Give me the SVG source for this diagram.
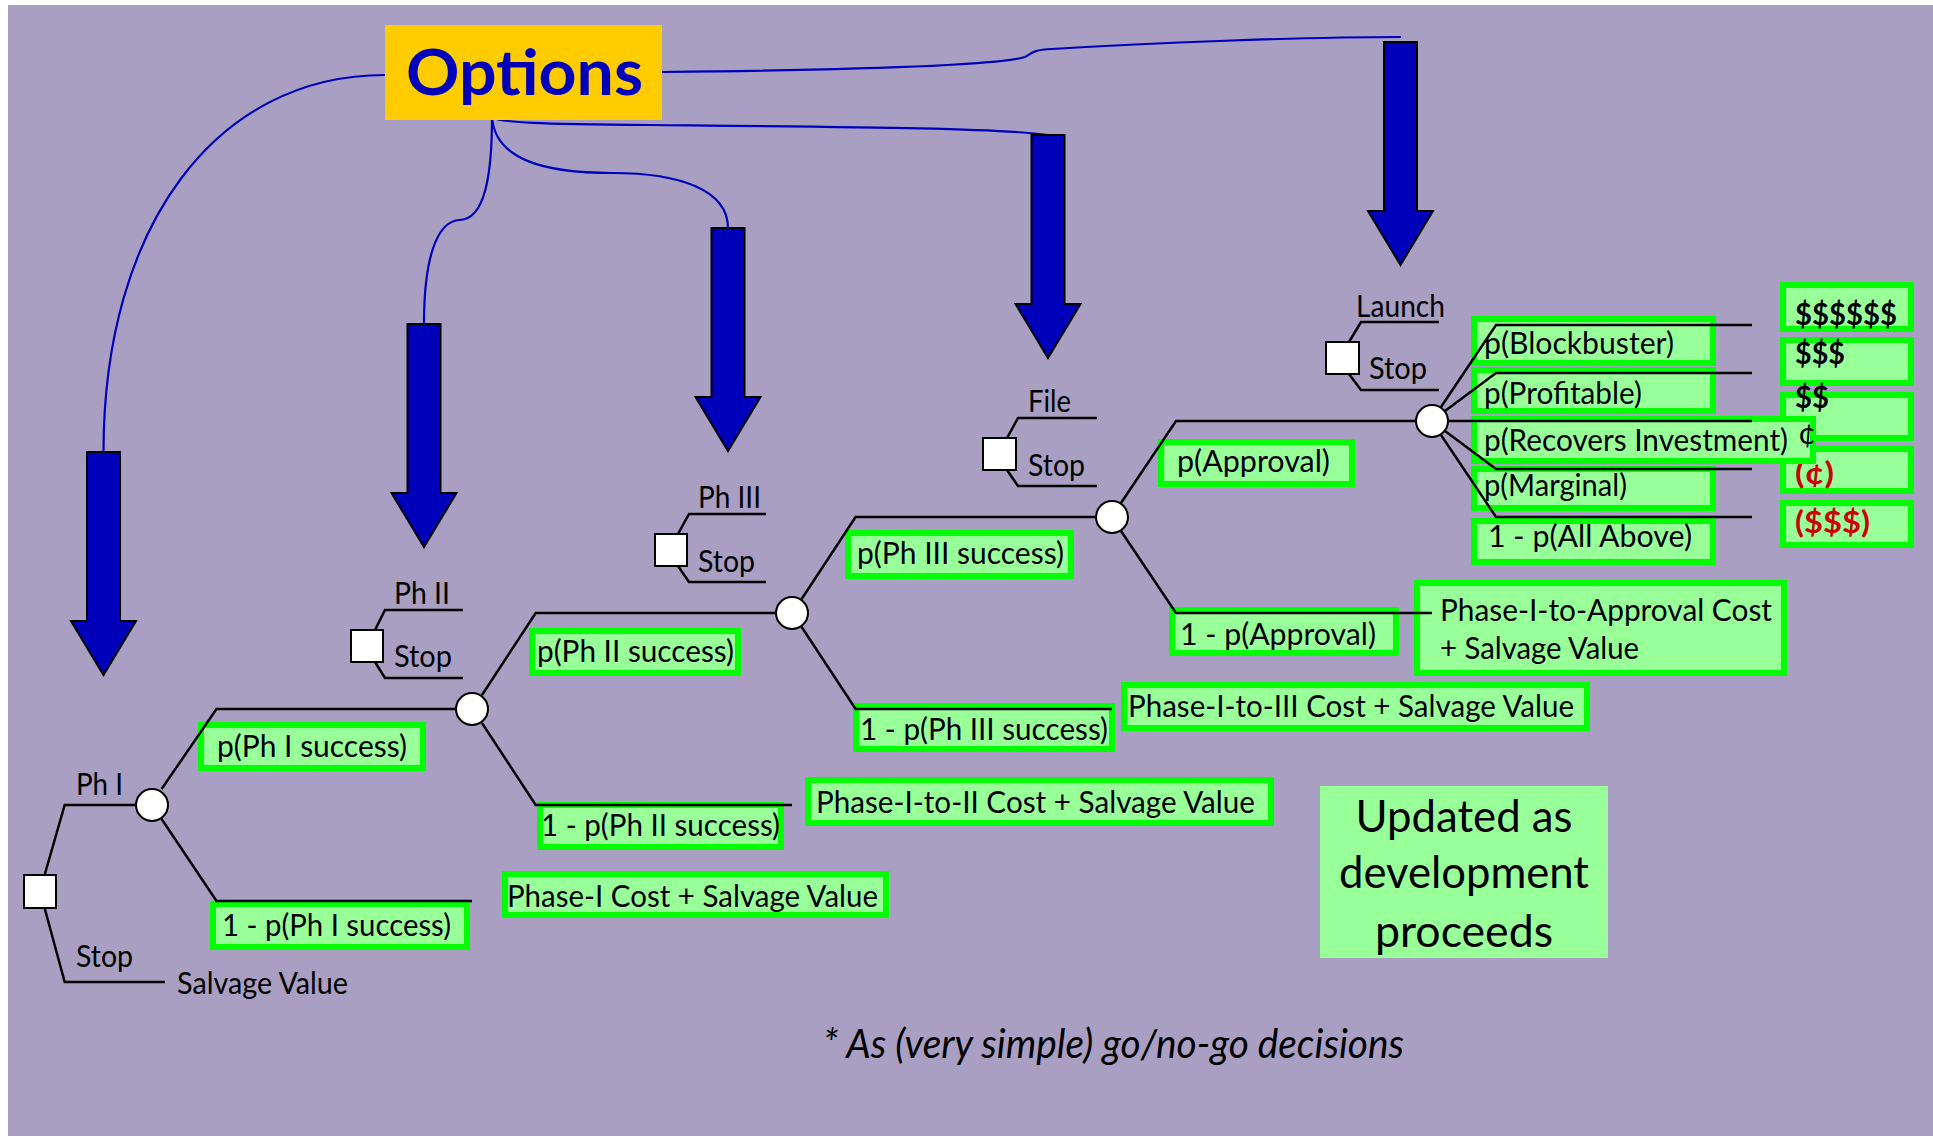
<svg xmlns="http://www.w3.org/2000/svg" xmlns:xlink="http://www.w3.org/1999/xlink" width="1933" height="1136" viewBox="0 0 1933 1136">
  <style>
    text { font-family: "Lato", "Open Sans", sans-serif; fill: #000; }
    .lbl { font-size: 31px; }
    .val { font-size: 31px; font-weight: bold; }
    .neg { fill: #CC0000; }
    .box { fill: #99FF99; stroke: #00FF00; stroke-width: 6; }
    .tree { fill: none; stroke: #000; stroke-width: 2.5; stroke-linejoin: miter; }
    .link { fill: none; stroke: #0000BB; stroke-width: 2.2; }
    .dec { fill: #fff; stroke: #000; stroke-width: 2; }
    .chance { fill: #fff; stroke: #000; stroke-width: 2; }
    .bigarrow { fill: #0000BB; stroke: #000; stroke-width: 2; stroke-linejoin: miter; }
  </style>
  <defs>
    <!-- block arrow pointing down, origin at the top centre of the shaft -->
    <path id="down-arrow" class="bigarrow" d="M-16.5,0 H16.5 V169 H32.5 L0,223 L-32.5,169 H-16.5 Z"/>
  </defs>

  <rect x="0" y="0" width="1933" height="1136" fill="#fff"/>
  <rect x="8" y="5" width="1925" height="1131" fill="#A99FC2"/>

  <!-- outcome / probability labels -->
  <g id="labels">
    <g id="v-blockbuster"><rect class="box" x="1783" y="285" width="128" height="44"/><text class="val" x="1795" y="325" textLength="102" lengthAdjust="spacingAndGlyphs">$$$$$$</text></g>
    <g id="v-profitable"><rect class="box" x="1783" y="340" width="128" height="43"/><text class="val" x="1795" y="364" textLength="50" lengthAdjust="spacingAndGlyphs">$$$</text></g>
    <g id="v-recovers"><rect class="box" x="1783" y="395" width="128" height="43"/><text class="val" x="1795" y="408" textLength="34" lengthAdjust="spacingAndGlyphs">$$</text></g>
    <g id="v-marginal"><rect class="box" x="1783" y="449" width="128" height="42"/><text class="val neg" x="1795" y="484" textLength="39" lengthAdjust="spacingAndGlyphs">(¢)</text></g>
    <g id="v-failure"><rect class="box" x="1783" y="503" width="128" height="42"/><text class="val neg" x="1795" y="533" textLength="75" lengthAdjust="spacingAndGlyphs">($$$)</text></g>

    <g id="p-ph1"><rect class="box" x="201" y="725" width="222" height="43"/><text class="lbl" x="217" y="757" textLength="190" lengthAdjust="spacingAndGlyphs">p(Ph I success)</text></g>
    <g id="q-ph1"><rect class="box" x="213" y="904" width="254" height="43"/><text class="lbl" x="222" y="936" textLength="229" lengthAdjust="spacingAndGlyphs">1 - p(Ph I success)</text></g>
    <g id="cost-ph1"><rect class="box" x="505" y="874" width="381" height="41"/><text class="lbl" x="507" y="907" textLength="371" lengthAdjust="spacingAndGlyphs">Phase-I Cost + Salvage Value</text></g>

    <g id="p-ph2"><rect class="box" x="532" y="631" width="206" height="42"/><text class="lbl" x="537" y="662" textLength="197" lengthAdjust="spacingAndGlyphs">p(Ph II success)</text></g>
    <g id="q-ph2"><rect class="box" x="540" y="805" width="241" height="42"/><text class="lbl" x="541" y="836" textLength="239" lengthAdjust="spacingAndGlyphs">1 - p(Ph II success)</text></g>
    <g id="cost-ph2"><rect class="box" x="808" y="780" width="463" height="43"/><text class="lbl" x="816" y="813" textLength="439" lengthAdjust="spacingAndGlyphs">Phase-I-to-II Cost + Salvage Value</text></g>

    <g id="p-ph3"><rect class="box" x="848" y="533" width="223" height="43"/><text class="lbl" x="857" y="564" textLength="207" lengthAdjust="spacingAndGlyphs">p(Ph III success)</text></g>
    <g id="q-ph3"><rect class="box" x="856" y="706" width="256" height="43"/><text class="lbl" x="860" y="740" textLength="248" lengthAdjust="spacingAndGlyphs">1 - p(Ph III success)</text></g>
    <g id="cost-ph3"><rect class="box" x="1124" y="685" width="463" height="43"/><text class="lbl" x="1128" y="717" textLength="446" lengthAdjust="spacingAndGlyphs">Phase-I-to-III Cost + Salvage Value</text></g>

    <g id="p-approval"><rect class="box" x="1161" y="442" width="191" height="42"/><text class="lbl" x="1177" y="472" textLength="153" lengthAdjust="spacingAndGlyphs">p(Approval)</text></g>
    <g id="q-approval"><rect class="box" x="1172" y="610" width="224" height="43"/><text class="lbl" x="1180" y="645" textLength="196" lengthAdjust="spacingAndGlyphs">1 - p(Approval)</text></g>
    <g id="cost-approval"><rect class="box" x="1417" y="583" width="367" height="90"/>
      <text class="lbl" x="1440" y="621" textLength="332" lengthAdjust="spacingAndGlyphs">Phase-I-to-Approval Cost</text>
      <text class="lbl" x="1440" y="659" textLength="199" lengthAdjust="spacingAndGlyphs">+ Salvage Value</text></g>

    <g id="p-blockbuster"><rect class="box" x="1474" y="319" width="239" height="44"/><text class="lbl" x="1484" y="354" textLength="190" lengthAdjust="spacingAndGlyphs">p(Blockbuster)</text></g>
    <g id="p-profitable"><rect class="box" x="1474" y="370" width="239" height="41"/><text class="lbl" x="1484" y="404" textLength="158" lengthAdjust="spacingAndGlyphs">p(Profitable)</text></g>
    <g id="p-recovers"><rect class="box" x="1474" y="419" width="339" height="42"/><text class="lbl" x="1484" y="451" textLength="304" lengthAdjust="spacingAndGlyphs">p(Recovers Investment)</text></g>
    <g id="p-marginal"><rect class="box" x="1474" y="469" width="239" height="39"/><text class="lbl" x="1484" y="496" textLength="143" lengthAdjust="spacingAndGlyphs">p(Marginal)</text></g>
    <g id="p-rest"><rect class="box" x="1474" y="521" width="239" height="41"/><text class="lbl" x="1488" y="547" textLength="204" lengthAdjust="spacingAndGlyphs">1 - p(All Above)</text></g>

    <text class="lbl" x="1798" y="444" font-size="33">¢</text>
  </g>

  <g id="note">
    <rect x="1320" y="786" width="288" height="172" fill="#99FF99"/>
    <text x="1464" y="832" font-size="45" text-anchor="middle" textLength="217" lengthAdjust="spacingAndGlyphs">Updated as</text>
    <text x="1464" y="888" font-size="45" text-anchor="middle" textLength="250" lengthAdjust="spacingAndGlyphs">development</text>
    <text x="1464" y="947" font-size="45" text-anchor="middle" textLength="178" lengthAdjust="spacingAndGlyphs">proceeds</text>
  </g>

  <text id="footnote" x="823" y="1058" font-size="40" font-style="italic" textLength="581" lengthAdjust="spacingAndGlyphs">* As (very simple) go/no-go decisions</text>

  <!-- tree branches and option links -->
  <g id="connectors">
    <path class="tree" d="M44.6,875 L64.7,805 L136,805"/>
    <path class="tree" d="M44.6,908 L64.7,982 L165,982"/>
    <path class="tree" d="M161.6,789 L216.5,709 L456,709"/>
    <path class="tree" d="M161.6,819 L216.5,901 L472,901"/>
    <path class="tree" d="M482,695 L535.7,613 L776,613"/>
    <path class="tree" d="M482,723 L535.7,805 L792,805"/>
    <path class="tree" d="M801,600 L855.6,517 L1096,517"/>
    <path class="tree" d="M801,626 L855.6,709 L1112,709"/>
    <path class="tree" d="M1121,503 L1176,421 L1416,421"/>
    <path class="tree" d="M1121,531 L1176,613 L1432,613"/>
    <path class="tree" d="M1441,407 L1496,325 L1752,325"/>
    <path class="tree" d="M1445,411 L1496,373 L1752,373"/>
    <path class="tree" d="M1448,421 L1752,421"/>
    <path class="tree" d="M1445,431 L1496,469 L1752,469"/>
    <path class="tree" d="M1441,435 L1496,517 L1752,517"/>

    <path class="tree" d="M375,630 L385,610 L463,610"/>
    <path class="tree" d="M375,662 L385,678 L463,678"/>
    <path class="tree" d="M678,534 L689,514 L766,514"/>
    <path class="tree" d="M678,566 L689,582 L766,582"/>
    <path class="tree" d="M1007,438 L1018,418 L1097,418"/>
    <path class="tree" d="M1007,470 L1018,486 L1097,486"/>
    <path class="tree" d="M1349,342 L1361,322 L1439,322"/>
    <path class="tree" d="M1349,374 L1361,390 L1439,390"/>

    <path class="link" d="M385,75 C216,75 103.5,226 103.5,452"/>
    <path class="link" d="M492,117 C492,175 485,220 459,220 C436,222 424,260 424,324"/>
    <path class="link" d="M492,117 C495,160 545,173 612,173 C680,173 728,190 728,228"/>
    <path class="link" d="M492,117 C500,123 540,124 650,125 C850,127 1000,128 1048,135"/>
    <path class="link" d="M662,72 C850,70 1000,65 1025,57 C1032,54 1030,50 1052,49 C1150,43 1300,37 1401,37"/>
  </g>

  <!-- decision points -->
  <g id="d-ph1">
    <rect class="dec" x="24" y="875" width="32" height="33"/>
    <text class="lbl" x="76" y="795" textLength="47" lengthAdjust="spacingAndGlyphs">Ph I</text>
    <text class="lbl" x="76" y="967" textLength="57" lengthAdjust="spacingAndGlyphs">Stop</text>
    <text class="lbl" x="177" y="994" textLength="171" lengthAdjust="spacingAndGlyphs">Salvage Value</text>
  </g>
  <g id="d-ph2">
    <rect class="dec" x="351" y="630" width="32" height="32"/>
    <text class="lbl" x="394" y="604" textLength="56" lengthAdjust="spacingAndGlyphs">Ph II</text>
    <text class="lbl" x="394" y="667" textLength="58" lengthAdjust="spacingAndGlyphs">Stop</text>
  </g>
  <g id="d-ph3">
    <rect class="dec" x="655" y="534" width="32" height="32"/>
    <text class="lbl" x="698" y="508" textLength="63" lengthAdjust="spacingAndGlyphs">Ph III</text>
    <text class="lbl" x="698" y="572" textLength="57" lengthAdjust="spacingAndGlyphs">Stop</text>
  </g>
  <g id="d-file">
    <rect class="dec" x="983" y="438" width="33" height="32"/>
    <text class="lbl" x="1028" y="412" textLength="43" lengthAdjust="spacingAndGlyphs">File</text>
    <text class="lbl" x="1028" y="476" textLength="57" lengthAdjust="spacingAndGlyphs">Stop</text>
  </g>
  <g id="d-launch">
    <rect class="dec" x="1326" y="342" width="33" height="32"/>
    <text class="lbl" x="1356" y="317" textLength="89" lengthAdjust="spacingAndGlyphs">Launch</text>
    <text class="lbl" x="1369" y="379" textLength="58" lengthAdjust="spacingAndGlyphs">Stop</text>
  </g>

  <!-- chance points -->
  <g id="c-ph1"><circle class="chance" cx="152" cy="805" r="16"/></g>
  <g id="c-ph2"><circle class="chance" cx="472" cy="709" r="16"/></g>
  <g id="c-ph3"><circle class="chance" cx="792" cy="613" r="16"/></g>
  <g id="c-approval"><circle class="chance" cx="1112" cy="517" r="16"/></g>
  <g id="c-market"><circle class="chance" cx="1432" cy="421" r="16"/></g>

  <!-- option arrows -->
  <g id="arrow-ph1"><use xlink:href="#down-arrow" href="#down-arrow" transform="translate(103.5,452)"/></g>
  <g id="arrow-ph2"><use xlink:href="#down-arrow" href="#down-arrow" transform="translate(424,324)"/></g>
  <g id="arrow-ph3"><use xlink:href="#down-arrow" href="#down-arrow" transform="translate(728,228)"/></g>
  <g id="arrow-file"><use xlink:href="#down-arrow" href="#down-arrow" transform="translate(1048,135)"/></g>
  <g id="arrow-launch"><use xlink:href="#down-arrow" href="#down-arrow" transform="translate(1400.5,42)"/></g>

  <g id="options">
    <rect x="385" y="25" width="277" height="95" fill="#FFCC00"/>
    <text x="406" y="95" font-size="64" font-weight="bold" fill="#0000BB" style="fill:#0000BB" textLength="237" lengthAdjust="spacingAndGlyphs">Options</text>
  </g>
</svg>
